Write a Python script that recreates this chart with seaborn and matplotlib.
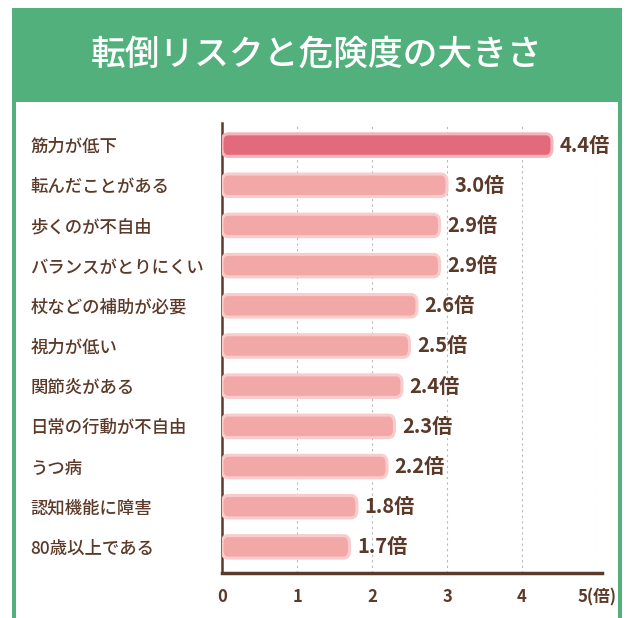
import pandas as pd
import seaborn as sns
import matplotlib.pyplot as plt
from matplotlib.patches import FancyBboxPatch, Rectangle

# data
factors = [
    "筋力が低下", "転んだことがある", "歩くのが不自由", "バランスがとりにくい",
    "杖などの補助が必要", "視力が低い", "関節炎がある", "日常の行動が不自由",
    "うつ病", "認知機能に障害", "80歳以上である",
]
risk = [4.4, 3.0, 2.9, 2.9, 2.6, 2.5, 2.4, 2.3, 2.2, 1.8, 1.7]
x_ticks = [0, 1, 2, 3, 4, 5]
x_tick_labels = ["0", "1", "2", "3", "4", "5(倍)"]

BROWN = "#5b3a29"
GREEN = "#52b07c"

sns.set_theme(style="white")
plt.rcParams["font.family"] = ["Noto Sans CJK JP", "DejaVu Sans"]

df = pd.DataFrame({"factor": factors, "risk": risk})

fig = plt.figure(figsize=(6.33, 6.18), dpi=100)

# green frame + header
fig.patches.append(Rectangle((12 / 633, 0), 610 / 633, 1 - 8 / 618, transform=fig.transFigure,
                             facecolor=GREEN, edgecolor="none", zorder=-3))
fig.patches.append(Rectangle((16 / 633, 0), 602 / 633, 1 - 102 / 618, transform=fig.transFigure,
                             facecolor="white", edgecolor="none", zorder=-2))
fig.text(0.5, 1 - 55 / 618, "転倒リスクと危険度の大きさ", ha="center", va="center",
         color="white", fontsize=25, fontweight="medium")

ax = fig.add_axes([222 / 633, 1 - 573 / 618, 375 / 633, 450 / 618])
ax.patch.set_alpha(0)

palette = ["#e26a7b"] + ["#f3a8a8"] * (len(factors) - 1)
sns.barplot(data=df, x="risk", y="factor", hue="factor", palette=palette,
            saturation=1, legend=False, width=0.56, ax=ax, zorder=3)

# swap plain bars for rounded ones
for i, bar in enumerate(list(ax.patches)):
    x0, y0 = bar.get_x(), bar.get_y()
    w, h = bar.get_width(), bar.get_height()
    edge = "#f8cccc" if i else "#f4b4bb"
    rb = FancyBboxPatch((x0, y0), w, h, boxstyle="round,pad=0,rounding_size=0.08",
                        mutation_aspect=h / 0.08 * 0.35,
                        facecolor=bar.get_facecolor(), edgecolor=edge, linewidth=2.2,
                        zorder=3)
    bar.remove()
    ax.add_patch(rb)
    ax.text(x0 + w + 0.1, y0 + h / 2, f"{risk[i]:.1f}倍", va="center", ha="left",
            color=BROWN, fontsize=14.5, fontweight="bold", zorder=4)

ax.set_xlim(0, 5)
ax.set_ylim(10.65, -0.55)
ax.set_xticks(x_ticks)
ax.set_xticklabels(x_tick_labels, color=BROWN, fontsize=12, fontweight="bold")
ax.tick_params(axis="x", length=0, pad=11)
ax.set_yticks(range(len(factors)))
ax.set_yticklabels(factors, color=BROWN, fontsize=12.5, fontweight="medium", ha="left")
ax.tick_params(axis="y", length=0, pad=138)
ax.set_xlabel("")
ax.set_ylabel("")

for t in x_ticks[1:]:
    ax.axvline(t, color="#b8b8b8", linestyle=(0, (2, 3)), linewidth=0.8, zorder=1)

for side in ["top", "right"]:
    ax.spines[side].set_visible(False)
ax.spines["left"].set_color(BROWN)
ax.spines["left"].set_linewidth(1.8)
ax.spines["bottom"].set_color(BROWN)
ax.spines["bottom"].set_linewidth(2.5)
ax.spines["bottom"].set_bounds(0, 5.07)
ax.spines["bottom"].set_clip_on(False)

fig.savefig("out.png", dpi=100)
